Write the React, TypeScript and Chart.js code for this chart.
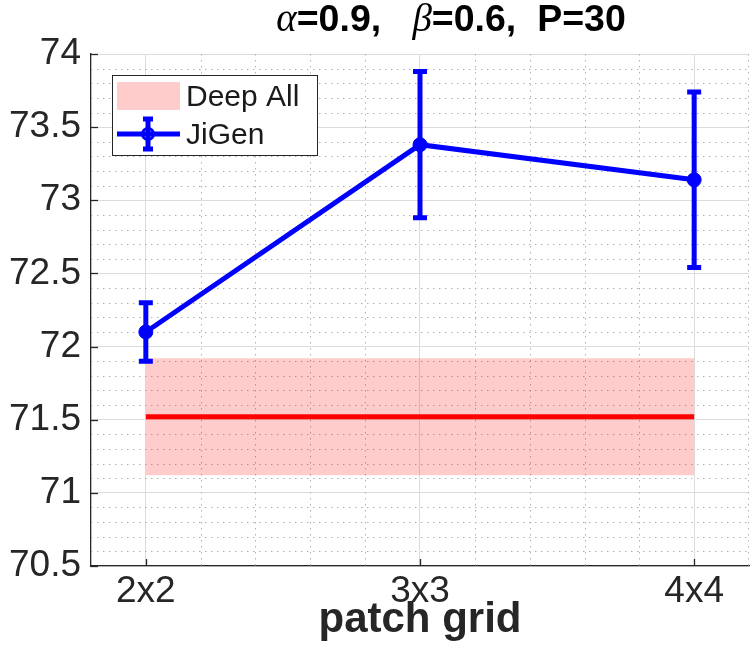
import React, { useEffect, useRef } from 'react';
import { Chart, registerables } from 'chart.js';

Chart.register(...registerables);

// ---- data ----
const categories = ['2x2', '3x3', '4x4'];
const xPositions = [2, 3, 4];
const jigenMean = [72.1, 73.38, 73.14];
const jigenErr = [0.2, 0.5, 0.6];
const deepAllMean = 71.52;
const deepAllStd = 0.4;
const yTickValues = [70.5, 71, 71.5, 72, 72.5, 73, 73.5, 74];
const seriesNames = ['Deep All', 'JiGen'];
const xLabel = 'patch grid';

// ---- styles ----
const AXIS = '#262626';
const BLUE = '#0000ff';
const RED = '#ff0000';
const BAND = 'rgba(255,0,0,0.2)';
const SANS = '"Liberation Sans", Arial, sans-serif';
const SERIF = '"Liberation Serif", "Times New Roman", serif';

const minorGridPlugin = {
  id: 'minorGrid',
  beforeDatasetsDraw(chart: any) {
    const { ctx, chartArea: a, scales } = chart;
    const x = scales.x;
    const y = scales.y;
    ctx.save();
    ctx.strokeStyle = '#b0b0b0';
    ctx.lineWidth = 1;
    ctx.setLineDash([1.5, 4.5]);
    const ky0 = Math.round(y.min * 10);
    const ky1 = Math.round(y.max * 10);
    for (let k = ky0 + 1; k < ky1; k++) {
      if (k % 5 === 0) continue;
      const py = Math.round(y.getPixelForValue(k / 10)) + 0.5;
      ctx.beginPath();
      ctx.moveTo(a.left, py);
      ctx.lineTo(a.right, py);
      ctx.stroke();
    }
    const kx0 = Math.round(x.min * 5);
    const kx1 = Math.round(x.max * 5);
    for (let k = kx0 + 1; k <= kx1; k++) {
      if (k % 5 === 0) continue;
      let px = Math.round(x.getPixelForValue(k / 5)) + 0.5;
      if (px > a.right - 0.5) px = a.right - 0.5;
      ctx.beginPath();
      ctx.moveTo(px, a.top);
      ctx.lineTo(px, a.bottom);
      ctx.stroke();
    }
    ctx.restore();
  },
};

const overlayPlugin = {
  id: 'overlay',
  afterDatasetsDraw(chart: any) {
    const { ctx, chartArea: a, scales } = chart;
    const x = scales.x;
    const y = scales.y;
    ctx.save();
    ctx.strokeStyle = BLUE;
    ctx.lineWidth = 5;
    ctx.lineCap = 'butt';
    for (let i = 0; i < xPositions.length; i++) {
      const px = x.getPixelForValue(xPositions[i]);
      const pTop = y.getPixelForValue(jigenMean[i] + jigenErr[i]);
      const pBot = y.getPixelForValue(jigenMean[i] - jigenErr[i]);
      ctx.beginPath();
      ctx.moveTo(px, pTop);
      ctx.lineTo(px, pBot);
      ctx.stroke();
      ctx.beginPath();
      ctx.moveTo(px - 7, pTop);
      ctx.lineTo(px + 7, pTop);
      ctx.moveTo(px - 7, pBot);
      ctx.lineTo(px + 7, pBot);
      ctx.stroke();
    }
    ctx.strokeStyle = AXIS;
    ctx.lineWidth = 1.3;
    for (const v of yTickValues) {
      const py = Math.round(y.getPixelForValue(v)) + 0.5;
      ctx.beginPath();
      ctx.moveTo(a.left, py);
      ctx.lineTo(a.left + 7, py);
      ctx.stroke();
    }
    for (const v of xPositions) {
      const px = Math.round(x.getPixelForValue(v)) + 0.5;
      ctx.beginPath();
      ctx.moveTo(px, a.bottom);
      ctx.lineTo(px, a.bottom - 7);
      ctx.stroke();
    }
    ctx.restore();
  },
  afterDraw(chart: any) {
    const { ctx } = chart;
    ctx.save();
    // ---- legend ----
    const lx = 112, ly = 75, lw = 205, lh = 80;
    ctx.fillStyle = '#ffffff';
    ctx.fillRect(lx, ly, lw, lh);
    ctx.strokeStyle = AXIS;
    ctx.lineWidth = 1;
    ctx.strokeRect(lx + 0.5, ly + 0.5, lw, lh);
    ctx.fillStyle = '#ffcccc';
    ctx.fillRect(117, 82, 63, 28);
    ctx.fillStyle = '#1a1a1a';
    ctx.font = `30px ${SANS}`;
    ctx.textBaseline = 'alphabetic';
    ctx.textAlign = 'left';
    ctx.fillText(seriesNames[0], 186, 106);
    ctx.fillText(seriesNames[1], 186, 144);
    ctx.strokeStyle = BLUE;
    ctx.lineWidth = 5;
    ctx.beginPath();
    ctx.moveTo(117, 134);
    ctx.lineTo(180, 134);
    ctx.moveTo(148, 119);
    ctx.lineTo(148, 149);
    ctx.moveTo(143, 119);
    ctx.lineTo(153, 119);
    ctx.moveTo(143, 149);
    ctx.lineTo(153, 149);
    ctx.stroke();
    ctx.lineWidth = 3;
    ctx.beginPath();
    ctx.arc(148, 134, 5.5, 0, Math.PI * 2);
    ctx.stroke();

    // ---- title ----
    const segs: { t: string; f: string }[] = [
      { t: 'α', f: `italic 39px ${SERIF}` },
      { t: '=0.9,   ', f: `bold 37.5px ${SANS}` },
      { t: 'β', f: `italic 39px ${SERIF}` },
      { t: '=0.6,  P=30', f: `bold 37.5px ${SANS}` },
    ];
    let total = 0;
    for (const s of segs) {
      ctx.font = s.f;
      total += ctx.measureText(s.t).width;
    }
    let cx = 451 - total / 2;
    ctx.fillStyle = '#000000';
    for (const s of segs) {
      ctx.font = s.f;
      ctx.fillText(s.t, cx, 31);
      cx += ctx.measureText(s.t).width;
    }
    ctx.restore();
  },
};

export default function App() {
  const ref = useRef<HTMLCanvasElement | null>(null);
  useEffect(() => {
    if (!ref.current) return;
    const upper = deepAllMean + deepAllStd;
    const lower = deepAllMean - deepAllStd;
    const xFirst = xPositions[0];
    const xLast = xPositions[xPositions.length - 1];
    const chart = new Chart(ref.current, {
      type: 'line',
      data: {
        datasets: [
          {
            label: seriesNames[1],
            data: xPositions.map((xv, i) => ({ x: xv, y: jigenMean[i] })),
            borderColor: BLUE,
            backgroundColor: BLUE,
            borderWidth: 5,
            pointRadius: 7,
            pointBackgroundColor: BLUE,
            pointBorderColor: BLUE,
            pointBorderWidth: 1,
            fill: false,
          },
          {
            label: seriesNames[0],
            data: [{ x: xFirst, y: deepAllMean }, { x: xLast, y: deepAllMean }],
            borderColor: RED,
            borderWidth: 5,
            pointRadius: 0,
            fill: false,
          },
          {
            label: 'upper',
            data: [{ x: xFirst, y: upper }, { x: xLast, y: upper }],
            borderColor: 'rgba(0,0,0,0)',
            borderWidth: 0,
            pointRadius: 0,
            fill: false,
          },
          {
            label: 'lower',
            data: [{ x: xFirst, y: lower }, { x: xLast, y: lower }],
            borderColor: 'rgba(0,0,0,0)',
            backgroundColor: BAND,
            borderWidth: 0,
            pointRadius: 0,
            fill: '-1',
          },
        ],
      },
      options: {
        animation: false,
        responsive: false,
        layout: { autoPadding: false, padding: { top: 54, right: 1, left: 0, bottom: 0 } },
        plugins: {
          legend: { display: false },
          title: { display: false },
          tooltip: { enabled: false },
        },
        scales: {
          x: {
            type: 'linear',
            min: 1.8,
            max: 4.2,
            afterBuildTicks: (scale: any) => {
              scale.ticks = xPositions.map((v) => ({ value: v }));
            },
            afterFit: (scale: any) => {
              scale.height = 94;
              scale.paddingLeft = 0;
              scale.paddingRight = 0;
            },
            ticks: {
              autoSkip: false,
              maxRotation: 0,
              padding: 4,
              color: AXIS,
              font: { size: 37, family: SANS },
              callback: (v: any) => {
                const i = xPositions.indexOf(Number(v));
                return i >= 0 ? categories[i] : '';
              },
            },
            grid: { color: '#dcdcdc', lineWidth: 1, drawTicks: false },
            border: { display: true, color: AXIS, width: 1.3 },
            title: {
              display: true,
              text: xLabel,
              color: AXIS,
              font: { size: 42, weight: 'bold', family: SANS },
              padding: { top: 0, bottom: 14 },
            },
          },
          y: {
            type: 'linear',
            min: 70.5,
            max: 74,
            afterBuildTicks: (scale: any) => {
              scale.ticks = yTickValues.map((v) => ({ value: v }));
            },
            afterFit: (scale: any) => {
              scale.width = 91;
              scale.paddingTop = 0;
              scale.paddingBottom = 0;
            },
            ticks: {
              autoSkip: false,
              padding: 10,
              color: AXIS,
              font: { size: 37, family: SANS },
              callback: (v: any) => String(v),
            },
            grid: { color: '#dcdcdc', lineWidth: 1, drawTicks: false },
            border: { display: true, color: AXIS, width: 1.3 },
          },
        },
      },
      plugins: [minorGridPlugin, overlayPlugin],
    } as any);
    return () => chart.destroy();
  }, []);
  return (
    <div style={{ position: 'fixed', left: 0, top: 0, width: 750, height: 660, background: '#fff' }}>
      <canvas ref={ref} width={750} height={660} style={{ width: 750, height: 660 }} />
    </div>
  );
}
